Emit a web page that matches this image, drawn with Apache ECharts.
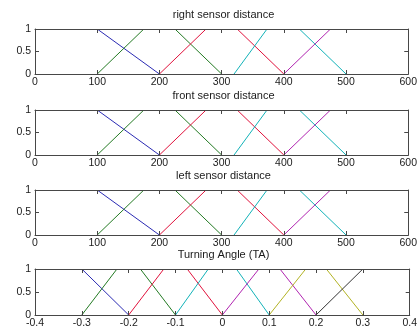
<!DOCTYPE html>
<html><head><meta charset="utf-8">
<script src="https://cdn.jsdelivr.net/npm/echarts@6/dist/echarts.min.js"></script>
<style>html,body{margin:0;padding:0;background:#fff}#c{width:420px;height:331px}</style>
</head><body><div id="c"></div>
<script>
// ---- data ----
const titles = ["right sensor distance", "front sensor distance", "left sensor distance", "Turning Angle (TA)"];
const distRange = [0, 600, 100];
const angleRange = [-0.4, 0.4, 0.1];
const yTicks = [0, 0.5, 1];

const distBlue = [[100, 1], [200, 0]];
const distGreen = [[100, 0], [175, 1], [225, 1], [300, 0]];
const distRed = [[200, 0], [275, 1], [325, 1], [400, 0]];
const distCyan = [[320, 0], [373, 1], [425, 1], [500, 0]];
const distMagenta = [[400, 0], [475, 1], [500, 1]];

const angBlue = [[-0.3, 1], [-0.2, 0]];
const angGreen = [[-0.3, 0], [-0.225, 1], [-0.175, 1], [-0.1, 0]];
const angRed = [[-0.2, 0], [-0.125, 1], [-0.075, 1], [0, 0]];
const angCyan = [[-0.1, 0], [-0.03, 1], [0.03, 1], [0.1, 0]];
const angMagenta = [[0, 0], [0.078, 1], [0.123, 1], [0.2, 0]];
const angYellow = [[0.1, 0], [0.178, 1], [0.222, 1], [0.3, 0]];
const angBlack = [[0.2, 0], [0.3, 1]];

// ---- styles / layout ----
const colBlue = '#2b2bb3', colGreen = '#237a23', colRed = '#e0123c', colCyan = '#12b2b8',
      colMagenta = '#b024b0', colYellow = '#b2b224', colBlack = '#333333';
const distSets = [[distBlue, colBlue], [distGreen, colGreen], [distRed, colRed], [distCyan, colCyan], [distMagenta, colMagenta]];
const angSets = [[angBlue, colBlue], [angGreen, colGreen], [angRed, colRed], [angCyan, colCyan], [angMagenta, colMagenta], [angYellow, colYellow], [angBlack, colBlack]];

const gridBoxes = [{top: 29, height: 45}, {top: 110, height: 45}, {top: 190, height: 45}, {top: 269, height: 46}];
const LEFT = 35, RIGHT = 8, W = 420;
const axisCol = '#474747', textCol = '#1a1a1a', FONT = 'Liberation Sans, Arial, sans-serif';

const grid = [], xAxis = [], yAxis = [], series = [], graphic = [];
gridBoxes.forEach((g, i) => {
  grid.push({left: LEFT, right: RIGHT, top: g.top, height: g.height, show: false});
  const r = i < 3 ? distRange : angleRange;
  const common = {type: 'value', gridIndex: i, min: r[0], max: r[1], interval: r[2], zlevel: 1, z: 5,
    axisLine: {show: true, onZero: false, lineStyle: {color: axisCol, width: 1}},
    axisTick: {show: true, inside: true, length: 4, lineStyle: {color: axisCol}},
    splitLine: {show: false}};
  xAxis.push(Object.assign({}, common, {position: 'bottom',
    axisLabel: {show: true, margin: 3, color: textCol, fontSize: 10.5, fontFamily: FONT,
      formatter: v => String(Math.round(v * 1000) / 1000)}}));
  xAxis.push(Object.assign({}, common, {position: 'top', axisLabel: {show: false}}));
  const yc = {type: 'value', gridIndex: i, min: 0, max: 1, interval: 0.5, zlevel: 1, z: 5,
    axisLine: {show: true, onZero: false, lineStyle: {color: axisCol, width: 1}},
    axisTick: {show: true, inside: true, length: 4, lineStyle: {color: axisCol}},
    splitLine: {show: false}};
  yAxis.push(Object.assign({}, yc, {position: 'left',
    axisLabel: {show: true, margin: 4, color: textCol, fontSize: 10.5, fontFamily: FONT,
      formatter: v => String(v)}}));
  yAxis.push(Object.assign({}, yc, {position: 'right', axisLabel: {show: false}}));
  const sets = i < 3 ? distSets : angSets;
  sets.forEach(([d, c]) => {
    series.push({type: 'line', xAxisIndex: 2 * i, yAxisIndex: 2 * i, data: d, symbol: 'none',
      lineStyle: {color: c, width: 1}, silent: true, animation: false, clip: true});
  });
  // white strip just above each box so the lines running along the top edge stay hidden under the frame
  graphic.push({type: 'rect', zlevel: 1, z: 1, silent: true,
    shape: {x: LEFT, y: g.top - 2, width: W - LEFT - RIGHT, height: 2}, style: {fill: '#fff'}});
  graphic.push({type: 'text', zlevel: 1, x: LEFT + (W - LEFT - RIGHT) / 2, y: g.top - 14,
    style: {text: titles[i], textAlign: 'center', textVerticalAlign: 'middle',
      font: '11px ' + FONT, fill: textCol}});
});

const chart = echarts.init(document.getElementById('c'), null, {renderer: 'canvas'});
chart.setOption({backgroundColor: '#fff', animation: false, grid, xAxis, yAxis, series, graphic});
</script></body></html>
